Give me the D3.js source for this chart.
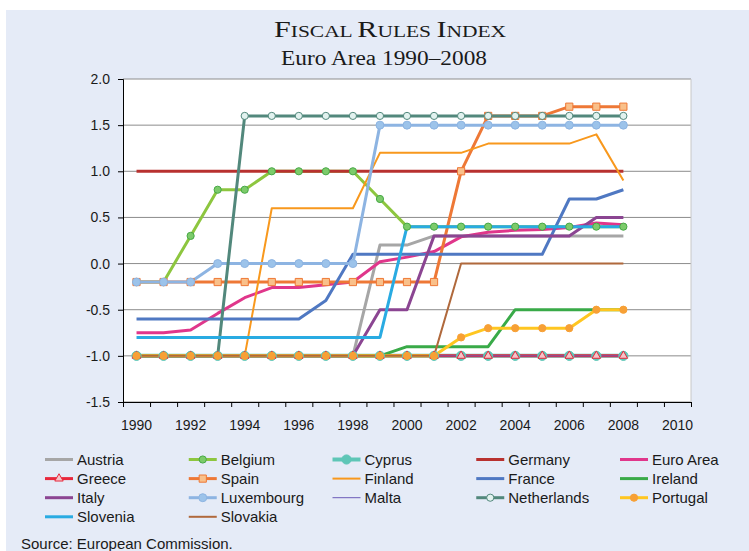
<!DOCTYPE html>
<html lang="en">
<head>
<meta charset="utf-8" />
<title>Fiscal Rules Index</title>
<script src="https://cdn.jsdelivr.net/npm/d3@7"></script>
<style>
  body { margin: 0; background: #fff; }
  svg { display: block; }
  text { font-family: "Liberation Sans", Arial, sans-serif; fill: #1a1a1a; }
</style>
</head>
<body>
<script>
  // years on the category axis (axis runs on to 2010)
  var years = [1990,1991,1992,1993,1994,1995,1996,1997,1998,1999,2000,2001,2002,2003,2004,2005,2006,2007,2008];
  var axisYears = [1990,1991,1992,1993,1994,1995,1996,1997,1998,1999,2000,2001,2002,2003,2004,2005,2006,2007,2008,2009,2010];
  var yTicks = [-1.5,-1.0,-0.5,0.0,0.5,1.0,1.5,2.0];

  // index values per country, 1990..2008
  var austria     = [-1,-1,-1,-1,-1,-1,-1,-1,-1,0.2,0.2,0.3,0.3,0.3,0.3,0.3,0.3,0.3,0.3];
  var belgium     = [-0.2,-0.2,0.3,0.8,0.8,1,1,1,1,0.7,0.4,0.4,0.4,0.4,0.4,0.4,0.4,0.4,0.4];
  var cyprus      = [-1,-1,-1,-1,-1,-1,-1,-1,-1,-1,-1,-1,-1,-1,-1,-1,-1,-1,-1];
  var germany     = [1,1,1,1,1,1,1,1,1,1,1,1,1,1,1,1,1,1,1];
  var euroArea    = [-0.75,-0.75,-0.72,-0.54,-0.37,-0.26,-0.26,-0.23,-0.2,0.02,0.07,0.13,0.29,0.34,0.36,0.37,0.39,0.44,0.42];
  var greece      = [-1,-1,-1,-1,-1,-1,-1,-1,-1,-1,-1,-1,-1,-1,-1,-1,-1,-1,-1];
  var spain       = [-0.2,-0.2,-0.2,-0.2,-0.2,-0.2,-0.2,-0.2,-0.2,-0.2,-0.2,-0.2,1.0,1.6,1.6,1.6,1.7,1.7,1.7];
  var finland     = [-1,-1,-1,-1,-1,0.6,0.6,0.6,0.6,1.2,1.2,1.2,1.2,1.3,1.3,1.3,1.3,1.4,0.9];
  var france      = [-0.6,-0.6,-0.6,-0.6,-0.6,-0.6,-0.6,-0.4,0.1,0.1,0.1,0.1,0.1,0.1,0.1,0.1,0.7,0.7,0.8];
  var ireland     = [-1,-1,-1,-1,-1,-1,-1,-1,-1,-1,-0.9,-0.9,-0.9,-0.9,-0.5,-0.5,-0.5,-0.5,-0.5];
  var italy       = [-1,-1,-1,-1,-1,-1,-1,-1,-1,-0.5,-0.5,0.3,0.3,0.3,0.3,0.3,0.3,0.5,0.5];
  var luxembourg  = [-0.2,-0.2,-0.2,0,0,0,0,0,0,1.5,1.5,1.5,1.5,1.5,1.5,1.5,1.5,1.5,1.5];
  var malta       = [-1,-1,-1,-1,-1,-1,-1,-1,-1,-1,-1,-1,-1,-1,-1,-1,-1,-1,-1];
  var netherlands = [-1,-1,-1,-1,1.6,1.6,1.6,1.6,1.6,1.6,1.6,1.6,1.6,1.6,1.6,1.6,1.6,1.6,1.6];
  var portugal    = [-1,-1,-1,-1,-1,-1,-1,-1,-1,-1,-1,-1,-0.8,-0.7,-0.7,-0.7,-0.7,-0.5,-0.5];
  var slovenia    = [-0.8,-0.8,-0.8,-0.8,-0.8,-0.8,-0.8,-0.8,-0.8,-0.8,0.4,0.4,0.4,0.4,0.4,0.4,0.4,0.4,0.4];
  var slovakia    = [-1,-1,-1,-1,-1,-1,-1,-1,-1,-1,-1,-1,0,0,0,0,0,0,0];

  var series = [
    {name: "Austria",     values: austria,     color: "#a6a6a6", width: 3},
    {name: "Belgium",     values: belgium,     color: "#8dc63f", width: 3, marker: "circle", r: 3.6, fill: "#7ccb6a", stroke: "#47a846"},
    {name: "Cyprus",      values: cyprus,      color: "#5ec6b7", width: 4, marker: "circle", r: 4.6, fill: "#5ec6b7", stroke: "#5ec6b7"},
    {name: "Germany",     values: germany,     color: "#b8312f", width: 3},
    {name: "Euro Area",   values: euroArea,    color: "#e0368b", width: 3},
    {name: "Greece",      values: greece,      color: "#e8283c", width: 3, marker: "triangle", r: 3.2, fill: "#f6c4c8", stroke: "#e8283c"},
    {name: "Spain",       values: spain,       color: "#ee7836", width: 3, marker: "square", r: 3.6, fill: "#f9c08a", stroke: "#ee7836"},
    {name: "Finland",     values: finland,     color: "#f8981d", width: 2},
    {name: "France",      values: france,      color: "#4f78c2", width: 3},
    {name: "Ireland",     values: ireland,     color: "#39aa48", width: 3},
    {name: "Italy",       values: italy,       color: "#8b4592", width: 3},
    {name: "Luxembourg",  values: luxembourg,  color: "#8db4e2", width: 3, marker: "circle", r: 4, fill: "#9cc3ea", stroke: "#8db4e2"},
    {name: "Malta",       values: malta,       color: "#6c5cb8", width: 1},
    {name: "Netherlands", values: netherlands, color: "#52887c", width: 3, marker: "circle", r: 3.6, fill: "#e2f2ef", stroke: "#52887c"},
    {name: "Portugal",    values: portugal,    color: "#ffc620", width: 3, marker: "circle", r: 3.6, fill: "#f7a035", stroke: "#f7a035"},
    {name: "Slovenia",    values: slovenia,    color: "#29abe2", width: 3},
    {name: "Slovakia",    values: slovakia,    color: "#b0693c", width: 2}
  ];

  var W = 749, H = 551;
  var margin = {left: 123, right: 58, top: 79, bottom: 149};

  var svg = d3.select("body").append("svg")
      .attr("width", W)
      .attr("height", H);

  svg.append("rect").attr("width", W).attr("height", H).attr("fill", "#fff");
  svg.append("rect")
      .attr("x", 6).attr("y", 10)
      .attr("width", W - 6).attr("height", H - 10)
      .attr("fill", "#e5ebf7");

  // titles: small caps built from two sizes, stretched to the width of the original
  var serif = "'Liberation Serif', 'Times New Roman', serif";
  var title = svg.append("text")
      .attr("x", 390).attr("y", 37)
      .attr("text-anchor", "middle")
      .style("font-family", serif)
      .attr("textLength", 232)
      .attr("lengthAdjust", "spacingAndGlyphs");
  [["F", "ISCAL "], ["R", "ULES "], ["I", "NDEX"]].forEach(p => {
    title.append("tspan").style("font-size", "22.5px").text(p[0]);
    title.append("tspan").style("font-size", "16px").text(p[1]);
  });

  svg.append("text")
      .attr("x", 384).attr("y", 65)
      .attr("text-anchor", "middle")
      .style("font-family", serif)
      .style("font-size", "20px")
      .attr("textLength", 206)
      .attr("lengthAdjust", "spacingAndGlyphs")
      .text("Euro Area 1990\u20132008");

  var x0 = margin.left, x1 = W - margin.right;
  var y0 = margin.top, y1 = H - margin.bottom;

  var x = d3.scaleBand(axisYears, [x0, x1]).padding(0);
  var xEdge = d3.scaleLinear([0, axisYears.length], [x0, x1]);
  var y = d3.scaleLinear([-1.5, 2], [y1, y0]);
  var cx = d => x(d) + x.bandwidth() / 2;

  // plot area
  svg.append("rect")
      .attr("x", x0).attr("y", y0)
      .attr("width", x1 - x0).attr("height", y1 - y0)
      .attr("fill", "#fff");

  svg.append("g")
      .selectAll("line")
      .data(yTicks)
      .join("line")
      .attr("x1", x0).attr("x2", x1)
      .attr("y1", d => y(d)).attr("y2", d => y(d))
      .attr("stroke", "#8c8c8c")
      .attr("stroke-width", 1);

  svg.append("line")
      .attr("x1", x1).attr("x2", x1)
      .attr("y1", y0).attr("y2", y1)
      .attr("stroke", "#c8c8c8");

  // axes
  var yAxisG = svg.append("g")
      .attr("transform", `translate(${x0},0)`)
      .call(d3.axisLeft(y).tickValues(yTicks).tickSize(5).tickPadding(8)
        .tickFormat(d => d.toFixed(1)));
  yAxisG.selectAll("text").style("font-size", "14px");

  var xTickG = svg.append("g")
      .attr("transform", `translate(0,${y1})`)
      .call(d3.axisBottom(xEdge).tickValues(d3.range(axisYears.length + 1)).tickSize(5).tickFormat(""));

  var xLabelG = svg.append("g")
      .attr("transform", `translate(0,${y1})`)
      .call(d3.axisBottom(x).tickValues(axisYears.filter(d => d % 2 == 0)).tickSize(0).tickPadding(18));
  xLabelG.select(".domain").remove();
  xLabelG.selectAll("text").style("font-size", "14px");

  svg.selectAll(".domain").attr("stroke", "#000");
  svg.selectAll(".tick line").attr("stroke", "#000");

  // lines first, then markers (as the spreadsheet draws it)
  var line = d3.line()
      .x((d, i) => cx(years[i]))
      .y(d => y(d));

  var plot = svg.append("g");
  plot.selectAll("path")
      .data(series)
      .join("path")
      .attr("d", d => line(d.values))
      .attr("fill", "none")
      .attr("stroke", d => d.color)
      .attr("stroke-width", d => d.width)
      .attr("stroke-linejoin", "round");

  var symbols = {circle: d3.symbolCircle, square: d3.symbolSquare, triangle: d3.symbolTriangle};

  function markerPath(s) {
    var r = s.r;
    var area = s.marker == "circle" ? Math.PI * r * r : s.marker == "square" ? 4 * r * r : 3 * r * r;
    return d3.symbol(symbols[s.marker], area)();
  }

  series.filter(s => s.marker).forEach(s => {
    plot.append("g")
        .selectAll("path")
        .data(s.values)
        .join("path")
        .attr("transform", (d, i) => `translate(${cx(years[i])},${y(d)})`)
        .attr("d", markerPath(s))
        .attr("fill", s.fill)
        .attr("stroke", s.stroke)
        .attr("stroke-width", 1);
  });

  // legend
  var legend = svg.append("g");
  var colW = 143.75, rowH = 19.1;
  var item = legend.selectAll("g")
      .data(series)
      .join("g")
      .attr("transform", (d, i) => `translate(${45 + (i % 5) * colW},${459.5 + Math.floor(i / 5) * rowH})`);

  item.append("line")
      .attr("x1", 0).attr("x2", 28)
      .attr("stroke", d => d.color)
      .attr("stroke-width", d => d.width);

  item.filter(d => d.marker)
      .append("path")
      .attr("transform", "translate(14,0)")
      .attr("d", d => markerPath(d))
      .attr("fill", d => d.fill)
      .attr("stroke", d => d.stroke);

  item.append("text")
      .attr("x", 32)
      .attr("y", 5.5)
      .style("font-size", "15px")
      .text(d => d.name);

  svg.append("text")
      .attr("x", 21).attr("y", 549)
      .style("font-size", "15px")
      .text("Source: European Commission.");
</script>
</body>
</html>
